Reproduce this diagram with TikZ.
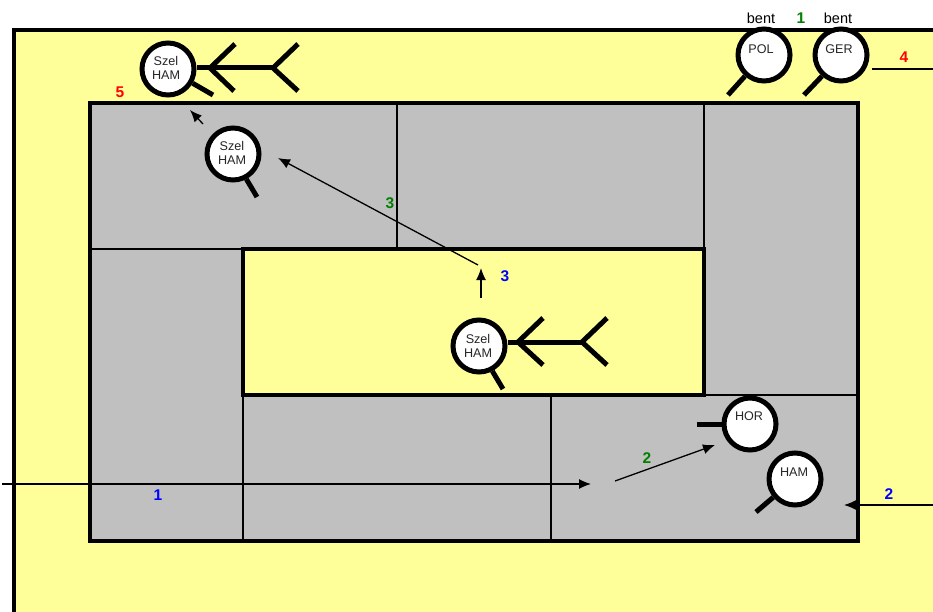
\documentclass[tikz,border=0pt]{standalone}
\usepackage{fontspec}
\setmainfont{Liberation Sans}
\usetikzlibrary{arrows.meta, positioning}
\definecolor{pale}{RGB}{255,255,153}
\definecolor{midgray}{RGB}{192,192,192}
\definecolor{dkgreen}{RGB}{0,128,0}
\tikzset{
    lens/.style={circle,draw=black,fill=white,line width=5pt,minimum size=52pt,inner sep=0pt},
    lenstext/.style={font=\fontsize{12.6}{14.5}\selectfont,align=center,inner sep=0pt,text=black!85},
    bentlabel/.style={font=\fontsize{14.5}{16}\selectfont,inner sep=0pt},
    num/.style={font=\fontsize{15.5}{17}\selectfont\bfseries,inner sep=0pt},
    bigline/.style={line width=5pt},
    wall/.style={line width=4.4pt,draw=black},
    thinwall/.style={line width=1.8pt,draw=black},
    path1/.style={line width=1.3pt,-{Latex[length=12pt,width=10pt]}}
}
\begin{document}
\begin{tikzpicture}[x=1pt,y=-1pt]
            \useasboundingbox (0,0) rectangle (933,612);

            % Background and outer border
            \fill[pale] (14,30) rectangle (933,612);
            \draw[wall,line join=miter] (14,612) -- (14,30) -- (933,30);

            % Gray frame and inner yard
            \fill[midgray] (90,103) rectangle (858,541);
            \draw[thinwall] (397,103) -- (397,249);
            \draw[thinwall] (704,103) -- (704,249);
            \draw[thinwall] (90,249) -- (243,249);
            \draw[thinwall] (704,395) -- (858,395);
            \draw[thinwall] (243,395) -- (243,541);
            \draw[thinwall] (551,395) -- (551,541);
            \draw[wall] (90,103) rectangle (858,541);
            \filldraw[wall,fill=pale] (243,249) rectangle (704,395);

            % Handles
            \coordinate (hamtopend) at (213,95);
            \coordinate (hammidend) at (257,197);
            \coordinate (haminend) at (503,389);
            \coordinate (polend) at (728,95);
            \coordinate (gerend) at (804,95);
            \coordinate (horend) at (697,424);
            \coordinate (hamend) at (756,512);

            % Lenses
            \node[lens] (hamtop) at (168,69) {};
            \node[lens] (hammid) at (233,154) {};
            \node[lens] (hamin) at (479,346) {};
            \node[lens] (pol) at (764,55) {};
            \node[lens] (ger) at (841,55) {};
            \node[lens] (hor) at (750,424) {};
            \node[lens] (ham) at (795,479) {};

            % Lens texts
            \node[lenstext] (hamtoptext) at (166,68) {Szel\\HAM};
            \node[lenstext] (hammidtext) at (232,153) {Szel\\HAM};
            \node[lenstext] (hamintext) at (478,346) {Szel\\HAM};
            \node[lenstext] (poltext) at (761,49) {POL};
            \node[lenstext] (gertext) at (839,49) {GER};
            \node[lenstext] (hortext) at (749,416) {HOR};
            \node[lenstext] (hamtext) at (794,472) {HAM};

            \draw[bigline] (hamtop.-30) -- (hamtopend);
            \draw[bigline] (hammid.-62) -- (hammidend);
            \draw[bigline] (hamin.-62) -- (haminend);
            \draw[bigline] (pol.-132) -- (polend);
            \draw[bigline] (ger.-132) -- (gerend);
            \draw[bigline] (hor.west) -- (horend);
            \draw[bigline] (ham.-140) -- (hamend);

            % Forks
            \coordinate (forktopa) at (210,68);
            \coordinate (forktopb) at (273,68);
            \draw[bigline] (hamtop.east |- forktopa) -- (forktopb);
            \draw[bigline] (235,44) -- (forktopa) -- (234,91);
            \draw[bigline] (298,44) -- (forktopb) -- (298,91);
            \coordinate (forkina) at (518,342);
            \coordinate (forkinb) at (582,342);
            \draw[bigline] (hamin.east |- forkina) -- (forkinb);
            \draw[bigline] (543,318) -- (forkina) -- (543,365);
            \draw[bigline] (607,318) -- (forkinb) -- (607,365);

            % Arrows
            \coordinate (oneA) at (2,484);
            \coordinate (oneB) at (591,484);
            \coordinate (twoA) at (933,505);
            \coordinate (twoB) at (844,505);
            \coordinate (grA) at (615,481);
            \coordinate (grB) at (715,445);
            \coordinate (upA) at (481,298);
            \coordinate (upB) at (481,268);
            \coordinate (longA) at (478,265);
            \coordinate (longB) at (278,158);
            \coordinate (shortA) at (203,124);
            \coordinate (shortB) at (190,110);
            \coordinate (fourA) at (872,69);
            \coordinate (fourB) at (933,69);
            \draw[path1] (oneA) -- (oneB);
            \draw[path1] (twoA) -- (twoB);
            \draw[path1] (grA) -- (grB);
            \draw[path1] (upA) -- (upB);
            \draw[path1] (longA) -- (longB);
            \draw[path1] (shortA) -- (shortB);
            \draw[line width=1.3pt] (fourA) -- (fourB);

            % Labels
            \node[bentlabel] (bentpol) at (761,18) {bent};
            \node[bentlabel] (bentger) at (838,18) {bent};
            \node[num,dkgreen] (gone) at (801,18) {1};
            \node[num,red] (rfour) at (904,57) {4};
            \node[num,red] (rfive) at (120,92) {5};
            \node[num,blue] (bone) at (158,495) {1};
            \node[num,blue] (btwo) at (889,494) {2};
            \node[num,blue] (bthree) at (505,276) {3};
            \node[num,dkgreen] (gtwo) at (647,458) {2};
            \node[num,dkgreen] (gthree) at (390,203) {3};

            \end{tikzpicture}
\end{document}
